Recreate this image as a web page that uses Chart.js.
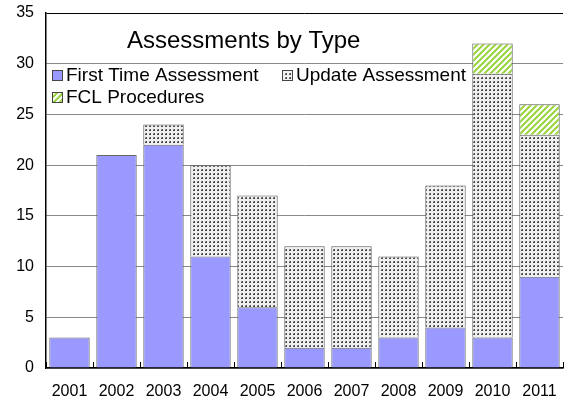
<!DOCTYPE html>
<html>
<head>
<meta charset="utf-8">
<script src="https://cdn.jsdelivr.net/npm/chart.js@4.4.1/dist/chart.umd.min.js"></script>
<style>
  html, body { margin: 0; padding: 0; background: #fff; }
  #wrap { width: 564px; height: 397px; position: relative; }
</style>
</head>
<body>
<div id="wrap"><canvas id="chart" width="564" height="397"></canvas></div>
<script>
const years = ['2001','2002','2003','2004','2005','2006','2007','2008','2009','2010','2011'];
const firstTime = [3, 21, 22, 11, 6, 2, 2, 3, 4, 3, 9];
const updates   = [0, 0, 2, 9, 11, 10, 10, 8, 14, 26, 14];
const fcl       = [0, 0, 0, 0, 0, 0, 0, 0, 0, 3, 3];
const yTicks = [0, 5, 10, 15, 20, 25, 30, 35];

function dotPattern() {
  const c = document.createElement('canvas');
  c.width = 4; c.height = 4;
  const g = c.getContext('2d');
  g.fillStyle = '#f0f0f0'; g.fillRect(0, 0, 4, 4);
  g.fillStyle = '#4a4a4a'; g.fillRect(1, 1, 2, 2);
  g.fillStyle = '#999'; g.fillRect(1, 1, 1, 1);
  return g.createPattern(c, 'repeat');
}
function hatchPattern() {
  const s = 6;
  const c = document.createElement('canvas');
  c.width = s; c.height = s;
  const g = c.getContext('2d');
  g.fillStyle = '#ffffff'; g.fillRect(0, 0, s, s);
  g.strokeStyle = '#99d43c'; g.lineWidth = 2;
  g.beginPath();
  g.moveTo(-1, s + 1); g.lineTo(s + 1, -1);
  g.moveTo(-1, 1); g.lineTo(1, -1);
  g.moveTo(s - 1, s + 1); g.lineTo(s + 1, s - 1);
  g.stroke();
  return g.createPattern(c, 'repeat');
}

const FONT = "'Liberation Sans', Arial, sans-serif";

// title + legend drawn inside the plot area, plus inward category ticks
const overlay = {
  id: 'overlay',
  afterDatasetsDraw(chart) {
    const ctx = chart.ctx;
    const area = chart.chartArea;
    ctx.save();
    ctx.strokeStyle = '#000'; ctx.lineWidth = 1;
    ctx.beginPath();
    for (let i = 0; i <= years.length; i++) {
      const px = Math.round(area.left + (area.right - area.left) * i / years.length) + 0.5;
      ctx.moveTo(px, area.bottom); ctx.lineTo(px, area.bottom - 6);
    }
    ctx.stroke();

    ctx.fillStyle = '#000';
    ctx.font = '24px ' + FONT;
    ctx.textBaseline = 'alphabetic';
    ctx.textAlign = 'left';
    ctx.fillText('Assessments by Type', 127, 48);

    ctx.font = '19px ' + FONT;
    const ds = chart.data.datasets;
    const pos = [[52, 75], [282, 75], [52, 97]];
    ds.forEach((d, i) => {
      const [bx, by] = pos[i];
      ctx.fillStyle = d.backgroundColor;
      ctx.fillRect(bx, by - 5, 10, 10);
      ctx.strokeStyle = '#444'; ctx.lineWidth = 1;
      ctx.strokeRect(bx + 0.5, by - 4.5, 10, 10);
      ctx.fillStyle = '#000';
      ctx.textBaseline = 'middle';
      ctx.fillText(d.label, bx + 14, by + 1);
    });
    ctx.restore();
  }
};

new Chart(document.getElementById('chart'), {
  type: 'bar',
  data: {
    labels: years,
    datasets: [
      { label: 'First Time Assessment', data: firstTime, backgroundColor: '#9999ff', borderColor: '#666', borderWidth: 1 },
      { label: 'Update Assessment', data: updates, backgroundColor: dotPattern(), borderColor: '#555', borderWidth: 1 },
      { label: 'FCL Procedures', data: fcl, backgroundColor: hatchPattern(), borderColor: '#555', borderWidth: 1 }
    ]
  },
  options: {
    responsive: false,
    animation: false,
    layout: { padding: { top: 13, right: 1, left: 0, bottom: 0 } },
    plugins: { legend: { display: false }, title: { display: false }, tooltip: { enabled: false } },
    datasets: { bar: { categoryPercentage: 0.86, barPercentage: 1.0 } },
    scales: {
      x: {
        stacked: true,
        grid: { display: false },
        border: { color: '#000', width: 1.5 },
        ticks: { color: '#000', font: { family: FONT, size: 16 }, padding: 6, maxRotation: 0 },
        afterFit(s) { s.height = 29; s.paddingLeft = 0; s.paddingRight = 0; }
      },
      y: {
        stacked: true,
        min: 0, max: 35,
        afterBuildTicks(s) { s.ticks = yTicks.map(v => ({ value: v })); },
        grid: { color: ctx => ctx.tick && ctx.tick.value === 35 ? '#000' : '#888', drawTicks: false, lineWidth: 1 },
        border: { color: '#000', width: 1.5 },
        ticks: { color: '#000', font: { family: FONT, size: 16 }, padding: 12 },
        afterFit(s) { s.width = 46; s.paddingTop = 0; s.paddingBottom = 0; }
      }
    }
  },
  plugins: [overlay]
});
</script>
</body>
</html>
